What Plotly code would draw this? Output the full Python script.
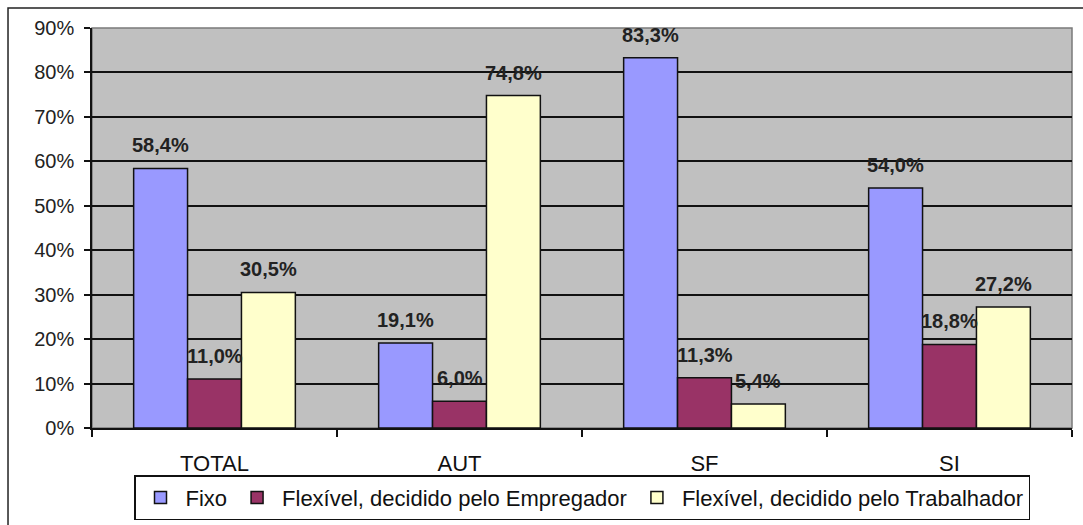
import plotly.graph_objects as go

# Categories and series (percent)
categories = ["TOTAL", "AUT", "SF", "SI"]
series_names = [
    "Fixo",
    "Flexível, decidido pelo Empregador",
    "Flexível, decidido pelo Trabalhador",
]
fixo = [58.4, 19.1, 83.3, 54.0]
flex_empregador = [11.0, 6.0, 11.3, 18.8]
flex_trabalhador = [30.5, 74.8, 5.4, 27.2]
y_ticks = [0, 10, 20, 30, 40, 50, 60, 70, 80, 90]

series_values = [fixo, flex_empregador, flex_trabalhador]
colors = ["#9999ff", "#993366", "#ffffcc"]

FONT = "Liberation Sans, Arial, sans-serif"
BARGAP = 0.34
n_series = len(series_values)
bar_w = (1 - BARGAP) / n_series
xpos = list(range(len(categories)))

fig = go.Figure()
for name, vals, col in zip(series_names, series_values, colors):
    fig.add_trace(go.Bar(
        x=xpos, y=vals, name=name,
        marker=dict(color=col, line=dict(color="#111111", width=1.5)),
        hoverinfo="skip",
    ))

# Value labels above each bar
annotations = []
for k, vals in enumerate(series_values):
    off = (k - (n_series - 1) / 2) * bar_w
    for i, v in enumerate(vals):
        annotations.append(dict(
            x=i + off, y=v, xref="x", yref="y",
            text=f"{v:.1f}%".replace(".", ","),
            showarrow=False, yshift=23, yanchor="middle",
            font=dict(family=FONT, size=20, color="#222222", weight="bold"),
        ))

shapes = [
    # plot-area frame (grey edges on top/right)
    dict(type="rect", xref="paper", yref="paper", x0=0, x1=1, y0=0, y1=1,
         line=dict(color="#7a7a7a", width=1.5), layer="below"),
    # outer chart frame
    dict(type="rect", xref="paper", yref="paper", x0=-0.0857, x1=1.05,
         y0=-0.6, y1=1.05, line=dict(color="#222222", width=1.5)),
]

fig.update_layout(
    width=1083, height=525,
    margin=dict(l=92, r=11, t=28, b=97, autoexpand=False),
    paper_bgcolor="white",
    plot_bgcolor="#c0c0c0",
    barmode="group",
    bargap=BARGAP,
    bargroupgap=0,
    showlegend=True,
    legend=dict(
        orientation="h", x=0.5, xanchor="center", y=-0.118, yanchor="top",
        font=dict(family=FONT, size=22, color="#111111"),
        bordercolor="#111111", borderwidth=1.5, bgcolor="white",
        itemwidth=40, traceorder="normal",
    ),
    font=dict(family=FONT, size=20, color="#222222"),
    annotations=annotations,
    shapes=shapes,
)

fig.update_xaxes(
    range=[-0.5, len(categories) - 0.5],
    tickmode="array", tickvals=xpos, ticktext=categories,
    ticks="", ticklabelstandoff=15,
    tickfont=dict(family=FONT, size=22, color="#111111"),
    showgrid=False, zeroline=False,
    showline=True, linecolor="#111111", linewidth=1.5,
    minor=dict(tickmode="array",
               tickvals=[i - 0.5 for i in range(len(categories) + 1)],
               ticks="outside", ticklen=7, tickcolor="#111111", tickwidth=1.5,
               showgrid=False),
)

fig.update_yaxes(
    range=[0, 90], tickmode="array", tickvals=y_ticks,
    ticktext=[f"{t}%" for t in y_ticks],
    ticks="outside", ticklen=6, tickcolor="#111111", tickwidth=1.5,
    ticklabelstandoff=6,
    tickfont=dict(family=FONT, size=20, color="#222222"),
    showgrid=True, gridcolor="#111111", gridwidth=1.5,
    zeroline=False,
    showline=True, linecolor="#111111", linewidth=1.5,
)

fig.write_html("out.html")
